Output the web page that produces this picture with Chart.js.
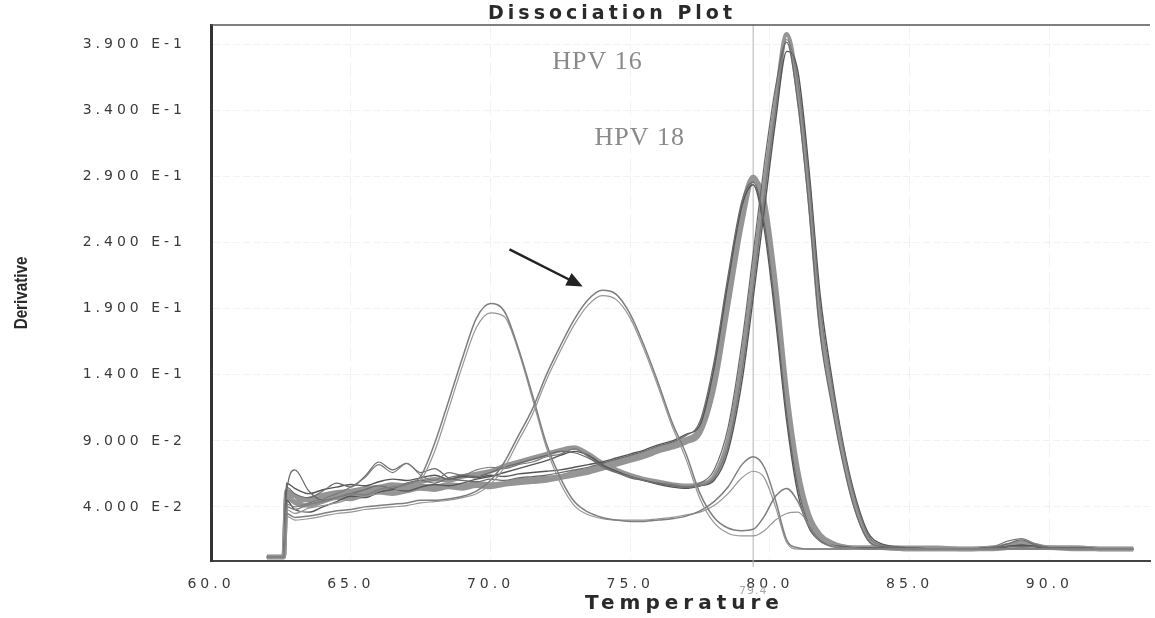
<!DOCTYPE html>
<html lang="en">
<head>
    <meta charset="UTF-8">
    <title>Dissociation Plot</title>
    <script src="https://cdn.jsdelivr.net/npm/chart.js"></script>
    <style>
        body {
            margin: 0;
            background-color: #fff;
        }
        .chart-box {
            width: 1155px;
            height: 618px;
            position: relative;
        }
    </style>
</head>
<body>
    <div class="chart-box">
        <canvas id="meltChart"></canvas>
    </div>

    <script>
        // temperature grid shared by every curve (deg C)
        const tempGrid = [62.0, 62.6, 62.7, 63.0, 63.5, 64.0, 64.5, 65.0, 65.5, 66.0,
            66.5, 67.0, 67.5, 68.0, 68.5, 69.0, 69.5, 70.0, 70.5, 71.0,
            71.5, 72.0, 72.5, 73.0, 73.5, 74.0, 74.5, 75.0, 75.5, 76.0,
            76.5, 77.0, 77.5, 78.0, 78.5, 79.0, 79.4, 79.8, 80.2, 80.6,
            81.0, 81.4, 81.8, 82.2, 82.6, 83.0, 83.5, 84.0, 85.0, 86.0,
            87.0, 88.0, 88.5, 89.0, 89.5, 90.0, 91.0, 92.0, 93.0];

        // tall product, peak ~80.6
        const p1a = [0.002, 0.002, 0.047, 0.044, 0.046, 0.049, 0.051, 0.052, 0.054, 0.055,
            0.057, 0.056, 0.059, 0.061, 0.060, 0.063, 0.065, 0.067, 0.071, 0.074,
            0.077, 0.080, 0.083, 0.085, 0.080, 0.073, 0.068, 0.064, 0.061, 0.059,
            0.057, 0.056, 0.057, 0.063, 0.090, 0.150, 0.215, 0.283, 0.345, 0.398,
            0.355, 0.278, 0.180, 0.128, 0.082, 0.045, 0.017, 0.010, 0.009, 0.009,
            0.008, 0.009, 0.011, 0.013, 0.011, 0.009, 0.009, 0.008, 0.008];
        const p1b = [0.002, 0.002, 0.050, 0.068, 0.052, 0.045, 0.047, 0.050, 0.053, 0.056,
            0.054, 0.058, 0.060, 0.058, 0.062, 0.064, 0.063, 0.066, 0.070, 0.073,
            0.076, 0.079, 0.082, 0.081, 0.077, 0.071, 0.066, 0.062, 0.060, 0.058,
            0.056, 0.055, 0.058, 0.068, 0.100, 0.165, 0.232, 0.300, 0.358, 0.392,
            0.345, 0.265, 0.170, 0.118, 0.074, 0.040, 0.015, 0.010, 0.009, 0.008,
            0.008, 0.009, 0.010, 0.010, 0.010, 0.009, 0.009, 0.008, 0.008];
        const p1c = [0.002, 0.002, 0.042, 0.040, 0.043, 0.046, 0.050, 0.055, 0.062, 0.072,
            0.066, 0.073, 0.064, 0.060, 0.066, 0.064, 0.068, 0.070, 0.069, 0.072,
            0.074, 0.078, 0.080, 0.084, 0.078, 0.070, 0.066, 0.063, 0.060, 0.058,
            0.057, 0.055, 0.056, 0.062, 0.086, 0.142, 0.205, 0.275, 0.340, 0.394,
            0.362, 0.288, 0.192, 0.136, 0.088, 0.050, 0.019, 0.011, 0.009, 0.008,
            0.008, 0.010, 0.014, 0.016, 0.012, 0.009, 0.008, 0.008, 0.008];
        const p1d = [0.002, 0.002, 0.045, 0.038, 0.036, 0.040, 0.044, 0.048, 0.047, 0.051,
            0.053, 0.052, 0.055, 0.057, 0.056, 0.058, 0.061, 0.063, 0.066, 0.069,
            0.072, 0.075, 0.079, 0.082, 0.079, 0.072, 0.067, 0.063, 0.060, 0.057,
            0.055, 0.054, 0.056, 0.060, 0.082, 0.135, 0.198, 0.265, 0.332, 0.385,
            0.370, 0.295, 0.200, 0.140, 0.090, 0.052, 0.021, 0.012, 0.009, 0.008,
            0.008, 0.009, 0.010, 0.011, 0.010, 0.009, 0.008, 0.008, 0.008];

        // second product, peak ~79.4
        const p2a = [0.002, 0.002, 0.052, 0.048, 0.045, 0.048, 0.050, 0.049, 0.052, 0.054,
            0.053, 0.055, 0.056, 0.055, 0.057, 0.056, 0.058, 0.057, 0.058, 0.060,
            0.061, 0.062, 0.063, 0.066, 0.068, 0.071, 0.074, 0.077, 0.080, 0.084,
            0.087, 0.091, 0.100, 0.140, 0.205, 0.265, 0.290, 0.265, 0.200, 0.120,
            0.062, 0.030, 0.017, 0.012, 0.010, 0.009, 0.009, 0.009, 0.008, 0.008,
            0.008, 0.009, 0.010, 0.011, 0.010, 0.009, 0.009, 0.008, 0.008];
        const p2b = [0.002, 0.002, 0.055, 0.050, 0.047, 0.052, 0.058, 0.055, 0.063, 0.074,
            0.068, 0.073, 0.066, 0.069, 0.062, 0.060, 0.059, 0.061, 0.060, 0.062,
            0.063, 0.064, 0.066, 0.068, 0.070, 0.073, 0.076, 0.079, 0.082, 0.086,
            0.089, 0.094, 0.105, 0.150, 0.215, 0.272, 0.286, 0.255, 0.188, 0.110,
            0.055, 0.026, 0.015, 0.011, 0.010, 0.009, 0.009, 0.009, 0.008, 0.008,
            0.008, 0.009, 0.012, 0.015, 0.011, 0.009, 0.009, 0.008, 0.008];
        const p2c = [0.002, 0.002, 0.049, 0.043, 0.041, 0.044, 0.047, 0.046, 0.049, 0.051,
            0.050, 0.052, 0.054, 0.053, 0.055, 0.054, 0.056, 0.055, 0.057, 0.058,
            0.059, 0.060, 0.062, 0.064, 0.066, 0.069, 0.072, 0.075, 0.078, 0.082,
            0.085, 0.089, 0.096, 0.130, 0.192, 0.255, 0.288, 0.272, 0.210, 0.128,
            0.068, 0.034, 0.019, 0.013, 0.010, 0.009, 0.009, 0.009, 0.008, 0.008,
            0.008, 0.008, 0.009, 0.010, 0.009, 0.009, 0.008, 0.008, 0.008];
        const p2d = [0.002, 0.002, 0.058, 0.054, 0.050, 0.053, 0.055, 0.057, 0.056, 0.059,
            0.061, 0.060, 0.062, 0.064, 0.061, 0.063, 0.062, 0.064, 0.063, 0.065,
            0.066, 0.067, 0.068, 0.070, 0.072, 0.074, 0.077, 0.080, 0.083, 0.087,
            0.090, 0.095, 0.102, 0.145, 0.210, 0.268, 0.284, 0.250, 0.182, 0.105,
            0.050, 0.024, 0.014, 0.011, 0.010, 0.009, 0.009, 0.009, 0.008, 0.008,
            0.008, 0.009, 0.010, 0.011, 0.010, 0.009, 0.009, 0.008, 0.008];

        // primer-dimer curves, peak ~70
        const c70a = [0.002, 0.002, 0.040, 0.038, 0.042, 0.044, 0.047, 0.050, 0.049, 0.053,
            0.055, 0.057, 0.063, 0.088, 0.120, 0.153, 0.183, 0.194, 0.188, 0.160,
            0.125, 0.088, 0.062, 0.044, 0.036, 0.032, 0.030, 0.029, 0.029, 0.030,
            0.031, 0.033, 0.037, 0.044, 0.055, 0.072, 0.078, 0.070, 0.045, 0.015,
            0.009, 0.008, 0.008, 0.008, 0.008, 0.008, 0.008, 0.008, 0.008, 0.008,
            0.008, 0.008, 0.008, 0.009, 0.008, 0.008, 0.008, 0.008, 0.008];
        const c70b = [0.002, 0.002, 0.038, 0.035, 0.039, 0.041, 0.043, 0.046, 0.048, 0.050,
            0.052, 0.055, 0.060, 0.082, 0.114, 0.147, 0.176, 0.187, 0.184, 0.158,
            0.122, 0.085, 0.058, 0.041, 0.034, 0.031, 0.030, 0.030, 0.030, 0.031,
            0.032, 0.034, 0.036, 0.041, 0.050, 0.062, 0.067, 0.062, 0.040, 0.013,
            0.008, 0.008, 0.008, 0.008, 0.008, 0.008, 0.008, 0.008, 0.008, 0.008,
            0.008, 0.008, 0.008, 0.008, 0.008, 0.008, 0.008, 0.008, 0.008];

        // arrowed curve, peak ~74.2
        const c74a = [0.002, 0.002, 0.035, 0.032, 0.033, 0.035, 0.037, 0.038, 0.040, 0.041,
            0.042, 0.043, 0.045, 0.045, 0.046, 0.048, 0.052, 0.060, 0.074, 0.094,
            0.114, 0.140, 0.162, 0.182, 0.197, 0.204, 0.201, 0.186, 0.162, 0.134,
            0.104, 0.080, 0.050, 0.032, 0.024, 0.022, 0.023, 0.033, 0.048, 0.054,
            0.044, 0.025, 0.014, 0.010, 0.009, 0.009, 0.008, 0.008, 0.008, 0.008,
            0.008, 0.008, 0.008, 0.008, 0.008, 0.008, 0.008, 0.008, 0.008];
        const c74b = [0.002, 0.002, 0.033, 0.030, 0.031, 0.033, 0.035, 0.036, 0.038, 0.039,
            0.040, 0.041, 0.043, 0.044, 0.045, 0.047, 0.050, 0.057, 0.070, 0.090,
            0.110, 0.136, 0.158, 0.178, 0.193, 0.200, 0.197, 0.183, 0.159, 0.131,
            0.101, 0.076, 0.046, 0.028, 0.020, 0.018, 0.018, 0.022, 0.030, 0.035,
            0.036, 0.027, 0.016, 0.011, 0.009, 0.008, 0.008, 0.008, 0.008, 0.008,
            0.008, 0.008, 0.008, 0.008, 0.008, 0.008, 0.008, 0.008, 0.008];

        const xTicks = [60, 65, 70, 75, 80, 85, 90];
        const yTicks = [0.04, 0.09, 0.14, 0.19, 0.24, 0.29, 0.34, 0.39];
        const yTickLabels = ['4.000 E-2', '9.000 E-2', '1.400 E-1', '1.900 E-1',
            '2.400 E-1', '2.900 E-1', '3.400 E-1', '3.900 E-1'];
        const markerTemp = 79.4;

        // first entry is drawn on top
        const series = [
            { data: c74a, color: '#7e7e7e', width: 1.5 },
            { data: c74b, color: '#969696', width: 1.2 },
            { data: c70a, color: '#7e7e7e', width: 1.5 },
            { data: c70b, color: '#969696', width: 1.2 },
            { data: p1b, color: '#6a6a6a', width: 1.2 },
            { data: p1c, color: '#7a7a7a', width: 1.2 },
            { data: p2b, color: '#6a6a6a', width: 1.2 },
            { data: p1d, color: '#555555', width: 1.4 },
            { data: p2d, color: '#555555', width: 1.4 },
            { data: p1a, color: '#959595', width: 4.5 },
            { data: p2a, color: '#959595', width: 4.5 },
            { data: p2c, color: '#959595', width: 4.5 }
        ];

        const extras = {
            id: 'extras',
            beforeDraw(chart) {
                chart.ctx.letterSpacing = '4px';
            },
            beforeDatasetsDraw(chart) {
                const { ctx, chartArea: a, scales: { x } } = chart;
                const mx = x.getPixelForValue(markerTemp);
                ctx.save();
                ctx.strokeStyle = '#b4b4b4';
                ctx.lineWidth = 1;
                ctx.beginPath();
                ctx.moveTo(mx, a.top);
                ctx.lineTo(mx, a.bottom + 6);
                ctx.stroke();
                ctx.restore();
            },
            afterDraw(chart) {
                const { ctx, chartArea: a, scales: { x, y } } = chart;
                ctx.save();
                ctx.letterSpacing = '0px';

                // top frame line
                ctx.strokeStyle = '#555';
                ctx.lineWidth = 1.5;
                ctx.beginPath();
                ctx.moveTo(a.left, a.top);
                ctx.lineTo(a.right, a.top);
                ctx.stroke();

                // title
                ctx.letterSpacing = '4px';
                ctx.fillStyle = '#2a2a2a';
                ctx.font = 'bold 19px "DejaVu Sans"';
                ctx.textAlign = 'center';
                ctx.textBaseline = 'middle';
                ctx.fillText('Dissociation Plot', x.getPixelForValue(74.35), 14);

                // x axis title
                ctx.letterSpacing = '5px';
                ctx.font = 'bold 20px "DejaVu Sans"';
                ctx.fillText('Temperature', (a.left + a.right) / 2 + 4, 604);

                // marker value
                ctx.letterSpacing = '1px';
                ctx.fillStyle = '#a8a8a8';
                ctx.font = '11px "DejaVu Sans"';
                ctx.fillText('79.4', x.getPixelForValue(markerTemp), 591);

                // product labels
                ctx.fillStyle = '#8a8a8a';
                ctx.font = '26px "Liberation Serif"';
                ctx.fillText('HPV 16', x.getPixelForValue(73.83), y.getPixelForValue(0.377));
                ctx.fillText('HPV 18', x.getPixelForValue(75.34), y.getPixelForValue(0.319));

                // arrow
                const x0 = x.getPixelForValue(70.68), y0 = y.getPixelForValue(0.235);
                const x1 = x.getPixelForValue(73.3), y1 = y.getPixelForValue(0.207);
                const ang = Math.atan2(y1 - y0, x1 - x0);
                ctx.strokeStyle = '#222';
                ctx.fillStyle = '#222';
                ctx.lineWidth = 2.5;
                ctx.beginPath();
                ctx.moveTo(x0, y0);
                ctx.lineTo(x1 - 12 * Math.cos(ang), y1 - 12 * Math.sin(ang));
                ctx.stroke();
                ctx.beginPath();
                ctx.moveTo(x1, y1);
                ctx.lineTo(x1 - 16 * Math.cos(ang) + 7 * Math.sin(ang), y1 - 16 * Math.sin(ang) - 7 * Math.cos(ang));
                ctx.lineTo(x1 - 16 * Math.cos(ang) - 7 * Math.sin(ang), y1 - 16 * Math.sin(ang) + 7 * Math.cos(ang));
                ctx.closePath();
                ctx.fill();

                // y axis title, narrow bold
                ctx.letterSpacing = '0px';
                ctx.fillStyle = '#2a2a2a';
                ctx.font = 'bold 19px "Liberation Sans"';
                ctx.translate(22, (a.top + a.bottom) / 2);
                ctx.rotate(-Math.PI / 2);
                ctx.scale(0.8, 1);
                ctx.fillText('Derivative', 0, 0);
                ctx.restore();
            }
        };

        new Chart(document.getElementById('meltChart'), {
            type: 'line',
            data: {
                datasets: series.map(s => ({
                    data: tempGrid.map((t, i) => ({ x: t, y: s.data[i] })),
                    borderColor: s.color,
                    borderWidth: s.width,
                    pointRadius: 0,
                    fill: false,
                    cubicInterpolationMode: 'monotone'
                }))
            },
            options: {
                responsive: true,
                maintainAspectRatio: false,
                animation: false,
                layout: { padding: { top: 25, right: 5, left: 0, bottom: 0 } },
                plugins: {
                    legend: { display: false },
                    tooltip: { enabled: false }
                },
                scales: {
                    x: {
                        type: 'linear',
                        min: 60,
                        max: 93.6,
                        afterFit: s => {
                            s.height = 57;
                            s.paddingLeft = 0;
                            s.paddingRight = 0;
                        },
                        afterBuildTicks: s => { s.ticks = xTicks.map(v => ({ value: v })); },
                        ticks: {
                            padding: 15,
                            color: '#3a3a3a',
                            font: { family: 'DejaVu Sans', size: 14 },
                            callback: v => v.toFixed(1)
                        },
                        grid: { drawTicks: false, color: 'rgba(0,0,0,0.05)' },
                        border: { display: true, color: '#444', width: 2, dash: [14, 5] }
                    },
                    y: {
                        min: -0.001,
                        max: 0.405,
                        afterFit: s => {
                            s.width = 211;
                            s.paddingTop = 0;
                            s.paddingBottom = 0;
                        },
                        afterBuildTicks: s => { s.ticks = yTicks.map(v => ({ value: v })); },
                        ticks: {
                            padding: 25,
                            color: '#3a3a3a',
                            font: { family: 'DejaVu Sans', size: 14 },
                            callback: (v, i) => yTickLabels[i]
                        },
                        grid: { drawTicks: false, color: 'rgba(0,0,0,0.05)' },
                        border: { display: true, color: '#333', width: 3, dash: [7, 3] }
                    }
                }
            },
            plugins: [extras]
        });
    </script>
</body>
</html>
